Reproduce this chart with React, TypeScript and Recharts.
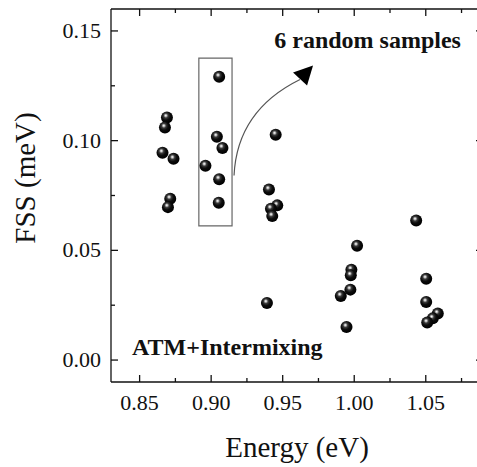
import { ScatterChart, Scatter, XAxis, YAxis, ReferenceArea, ReferenceDot, Label } from 'recharts'

// energies (eV) and fine-structure splittings (meV)
const energy = [
  0.8691, 0.8677, 0.866, 0.8737, 0.8714, 0.8698,
  0.9056, 0.904, 0.9079, 0.896, 0.9056, 0.9053,
  0.9451, 0.9404, 0.9462, 0.9418, 0.9427, 0.939,
  1.002, 0.998, 0.9976, 0.9973, 0.9906, 0.9946,
  1.0433, 1.0503, 1.0503, 1.0584, 1.0549, 1.051,
]
const fss = [
  0.1106, 0.106, 0.0945, 0.0917, 0.0735, 0.0697,
  0.1291, 0.1018, 0.0967, 0.0886, 0.0824, 0.0717,
  0.1027, 0.0777, 0.0705, 0.069, 0.0656, 0.026,
  0.0521, 0.0412, 0.0386, 0.0321, 0.0292, 0.0151,
  0.0636, 0.0371, 0.0265, 0.0212, 0.019, 0.0171,
]
const xTicks = [0.85, 0.875, 0.9, 0.925, 0.95, 0.975, 1.0, 1.025, 1.05, 1.075]
const yTicks = [0, 0.025, 0.05, 0.075, 0.1, 0.125, 0.15]
const xDomain = [0.83, 1.09]
const yDomain = [-0.01, 0.16]

// the six samples picked out by the box, and where the notes sit
const boxX = [0.8914, 0.9146]
const boxY = [0.0612, 0.1376]
const arrowFrom = { x: 0.916, y: 0.0841 }
const noteTop = { x: 0.9441, y: 0.1424, text: '6 random samples' }
const noteBottom = { x: 0.8447, y: 0.0023, text: 'ATM+Intermixing' }

const data = energy.map((e, i) => ({ e, f: fss[i] }))

// chart geometry (plot box follows from these)
const W = 490
const H = 467
const M = { top: 9, right: 7, bottom: 0, left: 0 }
const Y_W = 111
const X_H = 85
const PLOT_L = M.left + Y_W
const PLOT_T = M.top
const PLOT_W = W - M.left - M.right - Y_W
const PLOT_H = H - M.top - M.bottom - X_H

const FONT = '"Liberation Serif", "Times New Roman", serif'
const INK = '#111'
const isMajor = (v: number) => Math.abs(v * 20 - Math.round(v * 20)) < 1e-6
const tickLen = (v: number) => (isMajor(v) ? 7 : 4)

function BottomTick({ x, y, payload }: any) {
  const v = payload.value
  return (
    <g>
      <line x1={x} x2={x} y1={y} y2={y - tickLen(v)} stroke={INK} strokeWidth={1.3} />
      {isMajor(v) && (
        <text x={x} y={y + 28} textAnchor="middle" fontSize={22} fontFamily={FONT} fill={INK}>
          {v.toFixed(2)}
        </text>
      )}
    </g>
  )
}

function LeftTick({ x, y, payload }: any) {
  const v = payload.value
  return (
    <g>
      <line x1={x} x2={x + tickLen(v)} y1={y} y2={y} stroke={INK} strokeWidth={1.3} />
      {isMajor(v) && (
        <text x={x - 10} y={y + 7} textAnchor="end" fontSize={22} fontFamily={FONT} fill={INK}>
          {v.toFixed(2)}
        </text>
      )}
    </g>
  )
}

// top and right edges of the frame, with inward mirror ticks
function Frame() {
  const px = (v: number) => PLOT_L + ((v - xDomain[0]) / (xDomain[1] - xDomain[0])) * PLOT_W
  const py = (v: number) => PLOT_T + ((yDomain[1] - v) / (yDomain[1] - yDomain[0])) * PLOT_H
  const right = PLOT_L + PLOT_W
  return (
    <svg width={477} height={467} style={{ position: 'absolute', left: 0, top: 0, zIndex: 2, pointerEvents: 'none' }}>
      <line x1={PLOT_L} x2={right} y1={PLOT_T} y2={PLOT_T} stroke={INK} strokeWidth={1.5} />
      <line x1={right} x2={right} y1={PLOT_T} y2={PLOT_T + PLOT_H} stroke={INK} strokeWidth={1.5} />
      {xTicks.map((v) => (
        <line key={'t' + v} x1={px(v)} x2={px(v)} y1={PLOT_T} y2={PLOT_T + tickLen(v)} stroke={INK} strokeWidth={1.3} />
      ))}
      {yTicks.map((v) => (
        <line key={'r' + v} x1={right} x2={right - tickLen(v)} y1={py(v)} y2={py(v)} stroke={INK} strokeWidth={1.3} />
      ))}
    </svg>
  )
}

function Ball({ cx, cy }: any) {
  return <circle cx={cx} cy={cy} r={6} fill="url(#ball)" />
}

function YTitle({ viewBox }: any) {
  const x = viewBox.x + 35
  const y = viewBox.y + 169
  return (
    <text x={x} y={y} transform={`rotate(-90 ${x} ${y})`} textAnchor="middle" fontSize={29} fontFamily={FONT} fill={INK}>
      FSS (meV)
    </text>
  )
}

function Arrow({ cx, cy }: any) {
  // curved pointer from the box towards the note
  return (
    <g>
      <path d={`M${cx},${cy} Q${cx + 3},${cy - 65} ${cx + 66},${cy - 96}`} fill="none" stroke="#555" strokeWidth={1.2} />
      <path d={`M${cx + 79},${cy - 110} L${cx + 59},${cy - 103} L${cx + 73},${cy - 90} Z`} fill="#000" />
    </g>
  )
}

function Note(text: string) {
  return ({ cx, cy }: any) => (
    <text x={cx} y={cy} fontSize={24} fontWeight="bold" fontFamily={FONT} fill={INK}>
      {text}
    </text>
  )
}

export default function App() {
  return (
    <div style={{ position: 'absolute', left: 0, top: 0, width: 477, height: 467, overflow: 'hidden', background: '#fff' }}>
      {/* shaded-sphere fill shared by all markers */}
      <svg width={0} height={0} style={{ position: 'absolute' }}>
        <defs>
          <radialGradient id="ball" cx="0.42" cy="0.38" r="0.6" fx="0.4" fy="0.34">
            <stop offset="0" stopColor="#ffffff" />
            <stop offset="0.12" stopColor="#c8c8c8" />
            <stop offset="0.32" stopColor="#3a3a3a" />
            <stop offset="0.6" stopColor="#0c0c0c" />
            <stop offset="1" stopColor="#000" />
          </radialGradient>
        </defs>
      </svg>
      <ScatterChart width={W} height={H} margin={M}>
        <XAxis
          dataKey="e"
          type="number"
          domain={xDomain}
          allowDataOverflow
          ticks={xTicks}
          interval={0}
          height={X_H}
          tickSize={0}
          tickMargin={0}
          tickLine={false}
          axisLine={{ stroke: INK, strokeWidth: 1.3 }}
          tick={<BottomTick />}
        >
          <Label value="Energy (eV)" position="insideBottom" offset={10} fontSize={29} fontFamily={FONT} fill={INK} />
        </XAxis>
        <YAxis
          dataKey="f"
          type="number"
          domain={yDomain}
          allowDataOverflow
          ticks={yTicks}
          interval={0}
          width={Y_W}
          tickSize={0}
          tickMargin={0}
          tickLine={false}
          axisLine={{ stroke: INK, strokeWidth: 1.3 }}
          tick={<LeftTick />}
        >
          <Label content={<YTitle />} />
        </YAxis>
        <ReferenceArea x1={boxX[0]} x2={boxX[1]} y1={boxY[0]} y2={boxY[1]} fill="none" stroke="#666" strokeWidth={1.2} />
        <Scatter data={data} shape={<Ball />} isAnimationActive={false} />
        <ReferenceDot x={arrowFrom.x} y={arrowFrom.y} shape={<Arrow />} />
        <ReferenceDot x={noteTop.x} y={noteTop.y} shape={Note(noteTop.text)} />
        <ReferenceDot x={noteBottom.x} y={noteBottom.y} shape={Note(noteBottom.text)} />
      </ScatterChart>
      <Frame />
    </div>
  )
}
